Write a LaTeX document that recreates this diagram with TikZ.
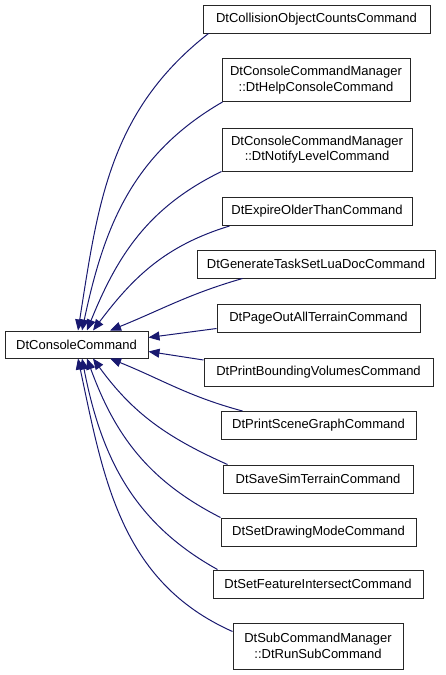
\documentclass[tikz,border=0pt]{standalone}
\usepackage{fontspec}
\setmainfont{Liberation Sans}
\usepackage{xcolor}
\usepackage{tikz}
\usetikzlibrary{arrows.meta}
\definecolor{edgeblue}{RGB}{25,25,112}

\begin{document}
\begin{tikzpicture}[x=1pt, y=-1pt,
    cls/.style={draw=black!85, line width=1pt, fill=white, inner sep=0pt, align=center,
                minimum height=28pt, font=\fontsize{13}{15.6}\selectfont},
    cls2/.style={cls, minimum height=43pt},
    inh/.style={draw=edgeblue, line width=1pt, -{Triangle[length=11pt,width=9pt]}}]
    \useasboundingbox (0,0) rectangle (445,675);

    % Base class
    \node[cls, minimum width=143pt, minimum height=27pt] (base) at (76.5,344.5) {DtConsoleCommand};

    % Derived classes
    \node[cls, minimum width=227pt] (c1) at (316.5,19) {DtCollisionObjectCountsCommand};
    \node[cls2, minimum width=188pt] (c2) at (316,80) {DtConsoleCommandManager\\::DtHelpConsoleCommand};
    \node[cls2, minimum width=190pt] (c3) at (317,149.5) {DtConsoleCommandManager\\::DtNotifyLevelCommand};
    \node[cls, minimum width=190pt] (c4) at (317,211.5) {DtExpireOlderThanCommand};
    \node[cls, minimum width=238pt] (c5) at (316,264) {DtGenerateTaskSetLuaDocCommand};
    \node[cls, minimum width=203pt] (c6) at (318.5,318.5) {DtPageOutAllTerrainCommand};
    \node[cls, minimum width=229pt] (c7) at (318.5,372) {DtPrintBoundingVolumesCommand};
    \node[cls, minimum width=195pt] (c8) at (318.5,425.5) {DtPrintSceneGraphCommand};
    \node[cls, minimum width=190pt] (c9) at (318,479) {DtSaveSimTerrainCommand};
    \node[cls, minimum width=195pt] (c10) at (318.5,532) {DtSetDrawingModeCommand};
    \node[cls, minimum width=210pt] (c11) at (318,584) {DtSetFeatureIntersectCommand};
    \node[cls2, minimum width=170pt, minimum height=46pt] (c12) at (318,646) {DtSubCommandManager\\::DtRunSubCommand};

    % Inheritance edges, upper half
    \draw[inh] ([xshift=6pt]c1.south west) to[out=218, in=81] ([xshift=1.5pt]base.north);
    \draw[inh] ([xshift=1pt]c2.south west) to[out=210, in=78] ([xshift=5.5pt]base.north);
    \draw[inh] (c3.south west) to[out=206, in=68] ([xshift=10.5pt]base.north);
    \draw[inh] ([xshift=8pt]c4.south west) to[out=197, in=53] ([xshift=16.5pt]base.north);
    \draw[inh] ([xshift=46pt]c5.south west) to[out=196, in=22] ([xshift=33.5pt]base.north);
    \draw[inh] ([yshift=-10pt]c6.west) -- ([yshift=7pt]base.east);
    \draw[inh] ([yshift=12pt]c7.west) -- ([yshift=-7pt]base.east);

    % Inheritance edges, lower half
    \draw[inh] ([xshift=22pt]c8.north west) to[out=165, in=-22] ([xshift=33.5pt]base.south);
    \draw[inh] ([xshift=5pt]c9.north west) to[out=156, in=-54] ([xshift=16.5pt]base.south);
    \draw[inh] (c10.north west) to[out=153, in=-70] ([xshift=10.5pt]base.south);
    \draw[inh] ([xshift=5pt]c11.north west) to[out=151, in=-79] ([xshift=5.5pt]base.south);
    \draw[inh] ([yshift=-9pt]c12.north west) to[out=156, in=-78] ([xshift=1.5pt]base.south);
\end{tikzpicture}
\end{document}
